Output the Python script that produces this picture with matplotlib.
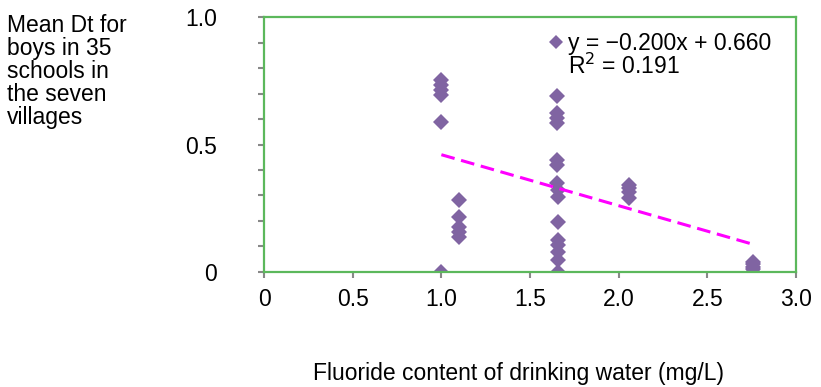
import matplotlib.pyplot as plt
import numpy as np
from matplotlib.lines import Line2D

plt.rcParams["font.family"] = ["Liberation Sans", "DejaVu Sans"]

# fluoride (mg/L) and mean Dt per school
fluoride = [1.0, 1.0, 1.0, 1.0, 1.0, 1.0,
            1.1, 1.1, 1.1, 1.1, 1.1,
            1.65, 1.65, 1.65, 1.65, 1.65, 1.65, 1.65, 1.66,
            1.66, 1.66, 1.66, 1.66, 1.66, 1.66, 1.66,
            2.06, 2.06, 2.06, 2.06,
            2.76, 2.76, 2.76, 2.76, 2.76]
mean_dt = [0.753, 0.733, 0.714, 0.694, 0.589, 0.0,
           0.282, 0.217, 0.178, 0.158, 0.138,
           0.690, 0.622, 0.603, 0.583, 0.439, 0.420, 0.348, 0.322,
           0.295, 0.197, 0.125, 0.106, 0.080, 0.047, 0.0,
           0.341, 0.330, 0.315, 0.289,
           0.040, 0.030, 0.020, 0.010, 0.0]

slope, intercept, r2 = -0.200, 0.660, 0.191

purple = "#8064a2"
green = "#5cb85c"
fs = 16.5

fig = plt.figure(figsize=(8.21, 3.87), dpi=100)
ax = fig.add_axes([0.3216, 0.2972, 0.9696 - 0.3216, 0.956 - 0.2972])

ax.plot(fluoride, mean_dt, linestyle="none", marker="D", markersize=8,
        color=purple, markeredgewidth=0)

xfit = np.array([min(fluoride), max(fluoride)])
ax.plot(xfit, slope * xfit + intercept, color="#ff00ff", lw=2.2,
        linestyle=(0, (4.5, 2.2)))

ax.set_xlim(0, 3.0)
ax.set_ylim(0, 1.0)
ax.set_xticks([0, 0.5, 1.0, 1.5, 2.0, 2.5, 3.0])
ax.set_xticklabels(["0", "0.5", "1.0", "1.5", "2.0", "2.5", "3.0"])
ax.set_yticks(np.arange(0, 1.01, 0.1))
ax.set_yticklabels(["0", "", "", "", "", "0.5", "", "", "", "", "1.0"])
ax.tick_params(axis="both", colors="#888888", labelcolor="black",
               labelsize=fs, length=4, width=1.5)
ax.tick_params(axis="x", pad=7.5)
ax.tick_params(axis="y", pad=30)
for s in ax.spines.values():
    s.set_color(green)
    s.set_linewidth(1.6)

handles = [Line2D([], [], linestyle="none", marker="D", markersize=7,
                  color=purple, markeredgewidth=0),
           Line2D([], [], linestyle="none")]
labels = [f"y = \u2212{abs(slope):.3f}x + {intercept:.3f}",
          f"R$^2$ = {r2:.3f}"]
ax.legend(handles, labels, loc="upper left", bbox_to_anchor=(0.536, 0.942),
          frameon=False, fontsize=fs, borderpad=0, labelspacing=-0.05,
          handlelength=0.6, handletextpad=0.2, borderaxespad=0)

fig.text(0.009, 0.965, "Mean Dt for\nboys in 35\nschools in\nthe seven\nvillages",
         fontsize=fs, va="top", ha="left", linespacing=1.0)
fig.text(0.631, 0.018, "Fluoride content of drinking water (mg/L)",
         fontsize=fs, ha="center", va="baseline")

fig.savefig("out.png", dpi=100)
